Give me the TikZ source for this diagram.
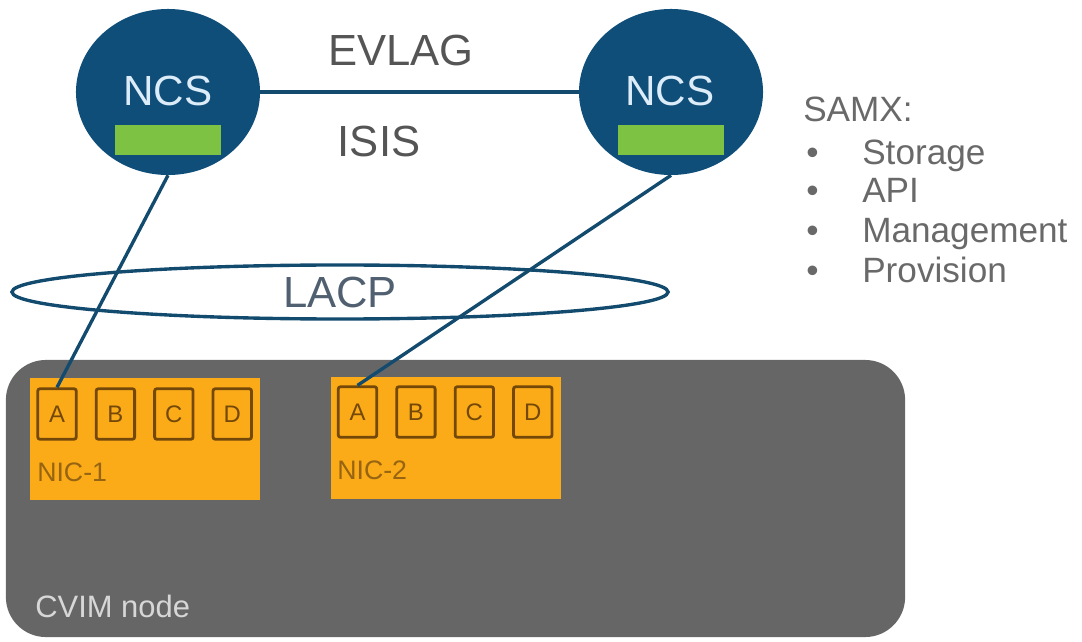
\documentclass[tikz,border=0pt]{standalone}
\usepackage{fontspec}
\setmainfont{Liberation Sans}
\usepackage{tikz}
\usetikzlibrary{positioning,shapes.geometric}
\definecolor{ncsblue}{RGB}{16,78,122}
\definecolor{ncstext}{RGB}{220,236,248}
\definecolor{ncsgreen}{RGB}{125,194,66}
\definecolor{linkblue}{RGB}{19,75,110}
\definecolor{nicorange}{RGB}{251,171,24}
\definecolor{portbrown}{RGB}{115,72,8}
\definecolor{niclabel}{RGB}{150,100,18}
\definecolor{cvimgray}{RGB}{102,102,102}
\definecolor{cvimtext}{RGB}{215,215,215}
\definecolor{lbltext}{RGB}{85,85,85}
\definecolor{lacptext}{RGB}{80,96,112}
\definecolor{samxtext}{RGB}{105,105,105}

\begin{document}
\begin{tikzpicture}[
  x=0.025cm, y=-0.025cm,
  ncs/.style={ellipse, fill=ncsblue, minimum width=4.6cm,
    minimum height=4.15cm, inner sep=0pt},
  ncslbl/.style={text=ncstext, font=\fontsize{30}{35}\selectfont,
    inner sep=0pt},
  bar/.style={rectangle, fill=ncsgreen, minimum width=2.65cm,
    minimum height=0.74cm, inner sep=0pt},
  lbl/.style={text=lbltext, font=\fontsize{31}{36}\selectfont,
    inner sep=0pt},
  link/.style={draw=linkblue, line width=2.4pt},
  lacp/.style={ellipse, draw=linkblue, line width=2.4pt,
    minimum width=16.4cm, minimum height=1.35cm, inner sep=0pt,
    text=lacptext, font=\fontsize{31}{36}\selectfont},
  cvimbox/.style={rectangle, rounded corners=1cm, fill=cvimgray,
    minimum width=22.475cm, minimum height=6.925cm},
  nic/.style={rectangle, fill=nicorange, minimum width=5.75cm,
    minimum height=3.05cm},
  port/.style={rectangle, rounded corners=1.5pt, draw=portbrown,
    line width=2pt, minimum width=0.96cm, minimum height=1.26cm,
    inner sep=0pt, text=portbrown, font=\fontsize{17}{20}\selectfont},
  niclbl/.style={text=niclabel, font=\fontsize{19}{22}\selectfont,
    inner sep=0pt, anchor=west},
  samx/.style={text=samxtext, font=\fontsize{25}{30}\selectfont,
    inner sep=0pt, anchor=base west},
]
\useasboundingbox (0,0) rectangle (1082,642);

% CVIM node with its two NICs
\node[cvimbox] (cvim) at (455.5,498.5) {};
\node[text=cvimtext, font=\fontsize{22}{26}\selectfont, inner sep=0pt,
  anchor=west] (cvimlbl) at (35,606) {CVIM node};

\node[nic] (nic1) at (145,439) {};
\node[port] (p1a) at (57,414) {A};
\node[port, right=0.43cm of p1a] (p1b) {B};
\node[port, right=0.43cm of p1b] (p1c) {C};
\node[port, right=0.43cm of p1c] (p1d) {D};
\node[niclbl] (nic1lbl) at (37,472) {NIC-1};

\node[nic] (nic2) at (446,438) {};
\node[port] (p2a) at (357.5,412) {A};
\node[port, right=0.43cm of p2a] (p2b) {B};
\node[port, right=0.43cm of p2b] (p2c) {C};
\node[port, right=0.43cm of p2c] (p2d) {D};
\node[niclbl] (nic2lbl) at (337,470) {NIC-2};

% the two NCS switches
\node[ncs] (ncs1) at (168,92) {};
\node[ncslbl] (ncs1lbl) at (168,91) {NCS};
\node[bar] (ncs1bar) at (168,140) {};

\node[ncs] (ncs2) at (671,92) {};
\node[ncslbl] (ncs2lbl) at (670,91) {NCS};
\node[bar] (ncs2bar) at (671,140) {};

\node[lbl] (evlag) at (401,50) {EVLAG};
\node[lbl] (isis) at (379,141) {ISIS};
\node[lacp] (lacp) at (340,292) {LACP};

% SAMX list
\node[samx] (samx) at (803,122) {SAMX:};
\node[samx] (item1) at (806,165) {\makebox[1.4cm][l]{\textbullet}Storage};
\node[samx] (item2) at (806,203) {\makebox[1.4cm][l]{\textbullet}API};
\node[samx] (item3) at (806,243) {\makebox[1.4cm][l]{\textbullet}Management};
\node[samx] (item4) at (806,283) {\makebox[1.4cm][l]{\textbullet}Provision};

\draw[link] (ncs1) -- (ncs2);
\draw[link] (ncs1.south) -- (p1a.north);
\draw[link] (ncs2.south) -- (p2a.north);
\end{tikzpicture}
\end{document}
